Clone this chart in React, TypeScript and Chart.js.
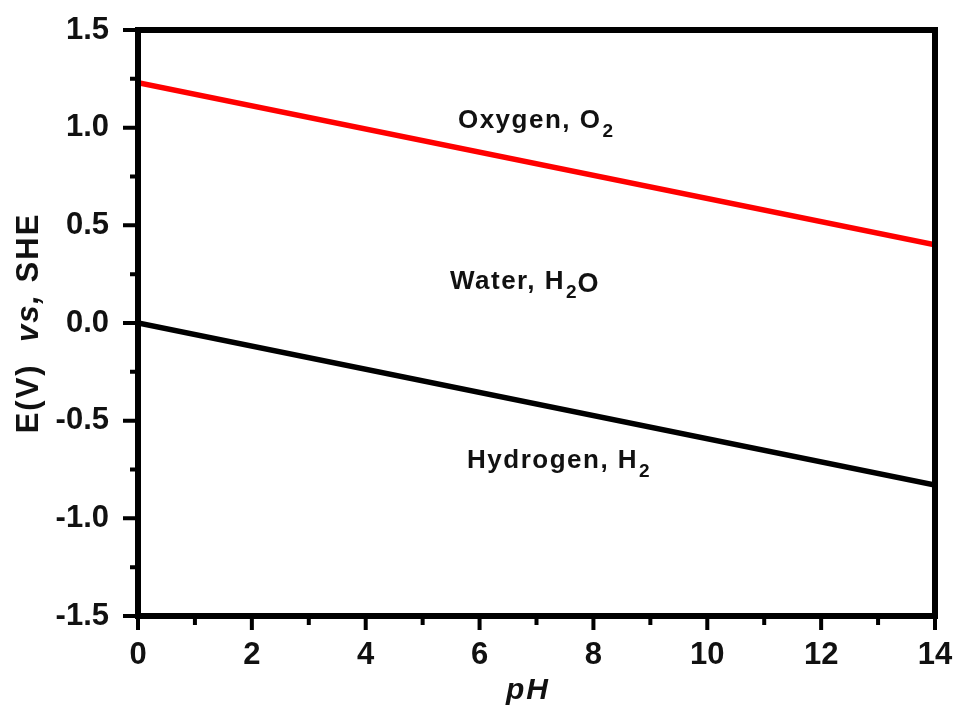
import React, { useEffect, useRef } from "react";
import { Chart, registerables } from "chart.js";

Chart.register(...registerables);

// pH range of the two stability boundaries
const pH = [0, 14];
// O2/H2O boundary, E = 1.23 - 0.059 pH
const oxygenBoundary = [1.23, 0.4];
// H+/H2 boundary, E = 0 - 0.059 pH
const hydrogenBoundary = [0.0, -0.83];

// axis ranges and tick steps
const xRange = [0, 14];
const yRange = [-1.5, 1.5];
const xMinorTicks = [1, 3, 5, 7, 9, 11, 13];
const yMinorTicks = [-1.25, -0.75, -0.25, 0.25, 0.75, 1.25];

// region names, anchored in data units (pH, volts) at their baseline start
const regionNames = ["Oxygen, O", "Water, H", "Hydrogen, H"];
const regionSubscripts = ["2", "2", "2"];
const regionTails = ["", "O", ""];
const regionPH = [5.62, 5.48, 5.78];
const regionE = [1.0, 0.174, -0.742];

const FONT = '"Liberation Sans", Arial, Helvetica, sans-serif';

const decorations = {
  id: "decorations",
  afterDraw(chart: any) {
    const { ctx, chartArea: a, scales } = chart;
    const xs = scales.x;
    const ys = scales.y;
    ctx.save();

    // frame around the plot area
    ctx.strokeStyle = "#000";
    ctx.lineWidth = 6;
    ctx.lineJoin = "miter";
    ctx.strokeRect(a.left, a.top, a.right - a.left, a.bottom - a.top);

    // outward tick marks on the bottom and left axes
    ctx.lineWidth = 4;
    ctx.lineCap = "butt";
    ctx.beginPath();
    xs.ticks.forEach((t: any) => {
      const px = xs.getPixelForValue(t.value);
      ctx.moveTo(px, a.bottom);
      ctx.lineTo(px, a.bottom + 14);
    });
    xMinorTicks.forEach((v) => {
      const px = xs.getPixelForValue(v);
      ctx.moveTo(px, a.bottom);
      ctx.lineTo(px, a.bottom + 9);
    });
    ys.ticks.forEach((t: any) => {
      const py = ys.getPixelForValue(t.value);
      ctx.moveTo(a.left, py);
      ctx.lineTo(a.left - 15, py);
    });
    yMinorTicks.forEach((v) => {
      const py = ys.getPixelForValue(v);
      ctx.moveTo(a.left, py);
      ctx.lineTo(a.left - 8, py);
    });
    ctx.stroke();

    ctx.fillStyle = "#111";
    ctx.textBaseline = "alphabetic";
    ctx.textAlign = "left";

    // region labels with subscripts
    regionNames.forEach((name, i) => {
      let x = xs.getPixelForValue(regionPH[i]);
      const y = ys.getPixelForValue(regionE[i]);
      ctx.font = `bold 26px ${FONT}`;
      (ctx as any).letterSpacing = "1.5px";
      ctx.fillText(name, x, y);
      x += ctx.measureText(name).width + 1;
      ctx.font = `bold 19px ${FONT}`;
      (ctx as any).letterSpacing = "0px";
      ctx.fillText(regionSubscripts[i], x, y + 9);
      x += ctx.measureText(regionSubscripts[i]).width + 1;
      if (regionTails[i]) {
        ctx.font = `bold 27px ${FONT}`;
        ctx.fillText(regionTails[i], x, y + 3);
      }
    });

    // y axis title: E(V) vs, SHE (rotated)
    const parts = [
      { t: "E(V)", f: `bold 31px ${FONT}` },
      { t: "  ", f: `bold 31px ${FONT}` },
      { t: "vs,", f: `italic bold 31px ${FONT}` },
      { t: " SHE", f: `bold 31px ${FONT}` },
    ];
    (ctx as any).letterSpacing = "2px";
    let total = 0;
    parts.forEach((p) => {
      ctx.font = p.f;
      total += ctx.measureText(p.t).width;
    });
    ctx.translate(38, (a.top + a.bottom) / 2);
    ctx.rotate(-Math.PI / 2);
    let cx = -total / 2;
    parts.forEach((p) => {
      ctx.font = p.f;
      ctx.fillText(p.t, cx, 0);
      cx += ctx.measureText(p.t).width;
    });
    ctx.setTransform(1, 0, 0, 1, 0, 0);

    // x axis title
    ctx.font = `italic bold 30px ${FONT}`;
    (ctx as any).letterSpacing = "2px";
    ctx.textAlign = "center";
    ctx.fillText("pH", 528, 699);

    ctx.restore();
  },
};

export default function App() {
  const ref = useRef<HTMLCanvasElement>(null);

  useEffect(() => {
    document.body.style.margin = "0";
    const canvas = ref.current!;
    const tickFont = { family: FONT, size: 31, weight: "bold" as const };
    const chart = new Chart(canvas, {
      type: "line",
      data: {
        datasets: [
          {
            label: "O2 / H2O",
            data: pH.map((x, i) => ({ x, y: oxygenBoundary[i] })),
            borderColor: "#ff0000",
            borderWidth: 5.5,
            pointRadius: 0,
            tension: 0,
          },
          {
            label: "H+ / H2",
            data: pH.map((x, i) => ({ x, y: hydrogenBoundary[i] })),
            borderColor: "#000000",
            borderWidth: 5.5,
            pointRadius: 0,
            tension: 0,
          },
        ],
      },
      options: {
        animation: false,
        responsive: true,
        maintainAspectRatio: false,
        layout: { padding: { top: 30, right: 23, left: 0, bottom: 0 } },
        plugins: { legend: { display: false }, tooltip: { enabled: false } },
        scales: {
          x: {
            type: "linear",
            min: xRange[0],
            max: xRange[1],
            grid: { display: false },
            border: { display: false },
            ticks: {
              stepSize: 2,
              font: tickFont,
              color: "#111",
              padding: 13,
              maxRotation: 0,
              callback: (v: any) => String(v),
            },
            afterFit: (s: any) => {
              s.height = 97;
              s.paddingLeft = 0;
              s.paddingRight = 0;
            },
          },
          y: {
            type: "linear",
            min: yRange[0],
            max: yRange[1],
            grid: { display: false },
            border: { display: false },
            ticks: {
              stepSize: 0.5,
              font: tickFont,
              color: "#111",
              padding: 21,
              callback: (v: any) => Number(v).toFixed(1),
            },
            afterFit: (s: any) => {
              s.width = 138;
              s.paddingTop = 0;
              s.paddingBottom = 0;
            },
          },
        },
      },
      plugins: [decorations],
    });
    return () => chart.destroy();
  }, []);

  return (
    <div style={{ width: 958, height: 713, position: "relative" }}>
      <canvas ref={ref} />
    </div>
  );
}
